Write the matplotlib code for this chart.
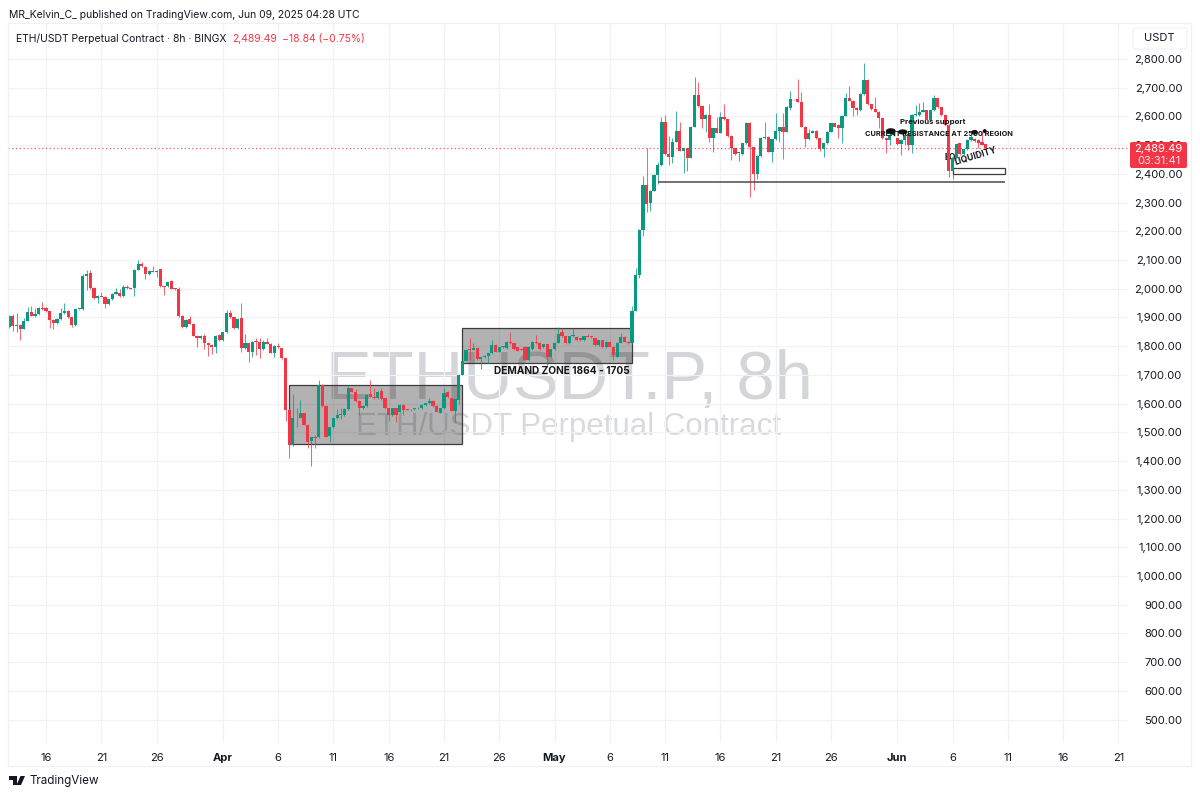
import matplotlib
matplotlib.use("Agg")
import matplotlib.pyplot as plt
import matplotlib.dates as mdates
from matplotlib.patches import Rectangle, Polygon, FancyBboxPatch, Ellipse
from matplotlib.lines import Line2D
import pandas as pd

plt.rcParams['font.family'] = ['Inter', 'DejaVu Sans']

opens = [1866,1905,1871,1874,1859,1888,1918,1905,1912,1933,
1933,1922,1892,1882,1895,1915,1924,1901,1874,1929,
1929,2046,2054,2004,1967,1976,1973,1946,1964,1982,
1984,1975,2005,2002,2002,2066,2086,2077,2051,2062,
2060,2068,2008,2008,2027,2000,2000,1905,1866,1894,
1878,1836,1828,1836,1810,1805,1796,1838,1820,1848,
1915,1901,1863,1897,1793,1810,1781,1816,1813,1789,
1816,1808,1778,1802,1793,1758,1578,1456,1551,1551,
1566,1526,1471,1483,1483,1665,1592,1487,1517,1549,
1560,1560,1580,1653,1642,1609,1584,1592,1633,1624,
1618,1644,1618,1584,1560,1584,1572,1595,1580,1580,
1580,1584,1584,1595,1601,1610,1592,1569,1584,1642,
1618,1575,1613,1700,1749,1787,1787,1792,1754,1761,
1766,1775,1804,1781,1796,1792,1816,1810,1796,1789,
1798,1752,1789,1816,1812,1796,1807,1763,1789,1812,
1850,1835,1810,1835,1833,1827,1821,1835,1835,1827,
1804,1821,1796,1816,1798,1763,1812,1833,1816,1810,
1924,2048,2205,2362,2298,2342,2396,2430,2580,2469,
2458,2512,2551,2481,2489,2456,2564,2676,2636,2590,
2605,2526,2559,2543,2597,2590,2532,2489,2472,2469,
2506,2578,2492,2400,2462,2524,2530,2477,2520,2549,
2562,2547,2628,2660,2660,2651,2564,2521,2543,2551,
2524,2485,2506,2547,2576,2570,2559,2602,2663,2655,
2631,2622,2678,2727,2642,2625,2617,2593,2524,2518,
2535,2524,2504,2518,2539,2501,2605,2605,2617,2622,
2588,2622,2663,2632,2605,2570,2410,2454,2506,2469,
2485,2518,2520,2518,2512,2503]
closes = [1905,1871,1873,1859,1888,1918,1905,1912,1933,1931,
1922,1892,1882,1895,1915,1922,1901,1874,1929,1930,
2046,2052,2004,1967,1976,1973,1946,1964,1982,1987,
1975,2005,2002,2000,2066,2086,2079,2051,2062,2060,
2062,2008,2006,2023,2000,1999,1905,1866,1892,1878,
1836,1828,1836,1810,1805,1796,1836,1820,1848,1915,
1901,1863,1895,1793,1810,1781,1816,1815,1789,1813,
1808,1778,1802,1796,1758,1578,1456,1551,1549,1566,
1526,1468,1483,1479,1665,1592,1485,1517,1549,1560,
1562,1580,1653,1642,1609,1584,1592,1630,1624,1618,
1642,1616,1584,1560,1584,1560,1595,1578,1579,1580,
1584,1585,1595,1601,1610,1592,1572,1584,1638,1622,
1575,1616,1700,1749,1787,1786,1792,1754,1761,1766,
1775,1804,1781,1796,1800,1816,1810,1789,1784,1787,
1752,1798,1816,1810,1789,1807,1763,1789,1812,1842,
1835,1810,1835,1837,1821,1821,1835,1833,1831,1804,
1821,1796,1816,1798,1769,1812,1833,1816,1810,1924,
2048,2205,2362,2295,2342,2396,2430,2580,2469,2458,
2512,2551,2481,2489,2456,2564,2676,2636,2590,2605,
2526,2559,2543,2597,2590,2532,2489,2469,2474,2506,
2578,2492,2400,2462,2526,2527,2477,2520,2549,2562,
2547,2634,2660,2659,2651,2564,2521,2543,2551,2524,
2485,2506,2547,2576,2564,2559,2602,2663,2655,2631,
2622,2678,2727,2642,2625,2617,2593,2524,2518,2535,
2553,2504,2518,2535,2501,2605,2605,2617,2622,2588,
2622,2663,2632,2605,2570,2410,2454,2503,2469,2485,
2518,2530,2514,2509,2501,2489.49]
highs = [1909,1912,1917,1878,1897,1938,1941,1932,1935,1953,
1935,1924,1894,1897,1932,1950,1926,1903,1931,1931,
2050,2066,2066,2006,1978,1990,1975,1966,1984,2002,
2000,2013,2012,2004,2068,2100,2092,2079,2064,2078,
2064,2070,2010,2025,2030,2002,2006,1907,1894,1905,
1880,1838,1838,1843,1812,1807,1838,1842,1850,1925,
1925,1903,1897,1952,1842,1812,1818,1830,1828,1820,
1828,1810,1804,1810,1795,1760,1580,1633,1584,1613,
1568,1528,1485,1491,1684,1667,1594,1519,1551,1580,
1584,1584,1661,1655,1650,1611,1594,1632,1684,1653,
1644,1653,1620,1586,1586,1586,1597,1597,1582,1583,
1586,1587,1597,1603,1620,1612,1594,1586,1653,1644,
1620,1618,1702,1751,1789,1827,1810,1794,1763,1768,
1777,1821,1806,1798,1802,1818,1850,1812,1798,1791,
1800,1800,1818,1839,1814,1809,1809,1791,1814,1868,
1865,1837,1837,1862,1835,1829,1837,1842,1837,1829,
1823,1823,1818,1818,1800,1814,1845,1835,1818,1940,
2071,2207,2391,2489,2344,2398,2443,2599,2605,2532,
2524,2620,2582,2491,2491,2566,2736,2721,2638,2607,
2643,2561,2599,2617,2643,2592,2534,2491,2476,2508,
2580,2580,2494,2464,2528,2582,2532,2522,2611,2564,
2611,2636,2688,2662,2729,2684,2566,2558,2553,2553,
2526,2508,2549,2578,2578,2572,2604,2680,2706,2657,
2633,2680,2785,2729,2644,2669,2619,2595,2526,2555,
2556,2526,2520,2537,2541,2607,2640,2646,2651,2624,
2624,2675,2665,2634,2607,2572,2456,2505,2508,2487,
2520,2535,2525,2520,2550,2505]
lows = [1862,1854,1851,1820,1859,1888,1905,1901,1908,1926,
1920,1863,1859,1878,1890,1912,1899,1866,1870,1927,
1927,1996,2000,1965,1950,1971,1934,1944,1962,1980,
1973,1973,2000,1998,1975,2064,2077,2035,2049,2058,
2042,2006,1979,2006,1998,1996,1903,1864,1864,1876,
1834,1796,1826,1790,1766,1773,1776,1818,1818,1846,
1899,1861,1861,1781,1791,1746,1764,1770,1758,1787,
1806,1776,1764,1794,1756,1538,1409,1454,1520,1549,
1524,1444,1383,1444,1481,1590,1483,1468,1515,1547,
1545,1558,1578,1640,1607,1560,1582,1590,1622,1616,
1616,1614,1582,1540,1558,1537,1570,1560,1577,1576,
1578,1582,1582,1593,1599,1590,1570,1567,1582,1620,
1573,1537,1600,1698,1747,1752,1785,1752,1719,1759,
1740,1773,1779,1779,1794,1790,1808,1787,1782,1785,
1750,1750,1787,1808,1787,1794,1729,1761,1787,1810,
1833,1808,1808,1833,1819,1819,1819,1831,1829,1802,
1802,1794,1794,1796,1752,1761,1810,1814,1808,1808,
1922,2037,2184,2268,2272,2340,2365,2428,2467,2431,
2437,2510,2479,2404,2411,2454,2562,2634,2559,2547,
2512,2477,2541,2541,2588,2530,2448,2467,2445,2467,
2504,2318,2344,2381,2460,2522,2475,2442,2518,2512,
2451,2545,2622,2657,2649,2562,2492,2519,2541,2522,
2481,2460,2504,2545,2562,2524,2506,2600,2653,2601,
2605,2620,2676,2640,2623,2615,2559,2522,2474,2500,
2533,2502,2466,2500,2483,2471,2603,2603,2615,2586,
2586,2620,2630,2603,2568,2388,2381,2452,2467,2467,
2483,2516,2512,2489,2499,2487]
n = len(opens)
assert n == len(closes) == len(highs) == len(lows) == 266, (len(opens), len(closes), len(highs), len(lows))

dates = pd.date_range(end="2025-06-09 00:00", periods=n, freq="8h")

price_ticks = list(range(500, 2900, 100))
date_ticks = ["2025-03-16","2025-03-21","2025-03-26","2025-04-01","2025-04-06","2025-04-11","2025-04-16",
              "2025-04-21","2025-04-26","2025-05-01","2025-05-06","2025-05-11","2025-05-16","2025-05-21",
              "2025-05-26","2025-06-01","2025-06-06","2025-06-11","2025-06-16","2025-06-21"]
date_labels = ["16","21","26","Apr","6","11","16","21","26","May","6","11","16","21","26","Jun","6","11","16","21"]

last_price = 2489.49
UP, DOWN, INK, GRID = "#089981", "#F23645", "#131722", "#F1F2F5"
W, H = 1200, 797

fig = plt.figure(figsize=(12, 7.97), dpi=100, facecolor="white")
ax = fig.add_axes([8/W, 1-743/H, 1120/W, 720/H])
ax.set_zorder(1)
ax.patch.set_alpha(0)

d0 = mdates.date2num(pd.Timestamp("2025-03-16"))
ax.set_xlim(d0 + (8-46)/11.055, d0 + (1128-46)/11.055)
ax.set_ylim(2800-(743-59)*3.482, 2800+(59-23)*3.482)
x = mdates.date2num(dates)

for s in ax.spines.values():
    s.set_visible(False)
ax.set_xticks(mdates.date2num(pd.to_datetime(date_ticks)))
ax.set_xticklabels(date_labels)
ax.set_yticks(price_ticks)
ax.set_yticklabels([f"{p:,.2f}" for p in price_ticks])
ax.yaxis.tick_right()
ax.tick_params(axis="both", length=0, labelsize=8.0, labelcolor=INK)
ax.tick_params(axis="y", pad=39)
ax.tick_params(axis="x", pad=7)
for t in ax.get_yticklabels():
    t.set_horizontalalignment("right")
for t, lab in zip(ax.get_xticklabels(), date_labels):
    if lab in ("Apr", "May", "Jun"):
        t.set_fontweight("bold")
ax.grid(True, color=GRID, lw=0.9, zorder=0)
ax.set_axisbelow(True)

# Watermark, behind the axes
fig.text(569/W, 1-381/H, "ETHUSDT.P, 8h", ha="center", va="center",
         fontsize=49.4, family="Liberation Sans", color="#D4D5D9", zorder=0.5)
fig.text(569/W, 1-427/H, "ETH/USDT Perpetual Contract", ha="center", va="center",
         fontsize=22.5, family="Liberation Sans", color="#D9DADE", zorder=0.5)

# Zones
def zone(start, end, top, bottom, **kw):
    s, e = mdates.date2num(pd.Timestamp(start)), mdates.date2num(pd.Timestamp(end))
    ax.add_patch(Rectangle((s, bottom), e-s, top-bottom, **kw))

zone("2025-04-07 00:00", "2025-04-22 16:00", 1664, 1459, facecolor=(0, 0, 0, 0.3), edgecolor="#3c3c3c", lw=0.9, zorder=1)
zone("2025-04-22 16:00", "2025-05-08 00:00", 1862, 1743, facecolor=(0, 0, 0, 0.3), edgecolor="#3c3c3c", lw=0.9, zorder=1)

# Candles
colors = [UP if c >= o else DOWN for o, c in zip(opens, closes)]
ax.vlines(x, lows, highs, colors=colors, lw=0.75, alpha=0.75, zorder=2)
ax.bar(x, [max(abs(c-o), 2.5) for o, c in zip(opens, closes)],
       bottom=[min(o, c) for o, c in zip(opens, closes)], width=0.29, color=colors, lw=0, zorder=3)

# Last price line
ax.axhline(last_price, color=DOWN, lw=0.9, ls=(0, (1, 2)), alpha=0.8, zorder=1.5)

# Liquidity level and box
lx0, lx1 = mdates.date2num(pd.Timestamp("2025-05-10 08:00")), mdates.date2num(pd.Timestamp("2025-06-10 18:00"))
ax.plot([lx0, lx1], [2370, 2370], color="#4a4a4a", lw=1.1, zorder=2.5, solid_capstyle="butt")
zone("2025-06-06 02:00", "2025-06-10 18:00", 2419, 2399, facecolor="white", edgecolor="#3c3c3c", lw=0.9, zorder=2.5)

# Annotations
def at(px, py):
    return (px/W, 1-py/H)

def note(px, py, s, size=5.6, rot=0, z=6, **kw):
    fx, fy = at(px, py)
    ax.text(fx, fy, s, transform=fig.transFigure, ha="center", va="center", fontsize=size, fontweight="bold",
            color="#161616", rotation=rot, zorder=z, **kw)

note(562, 371, "DEMAND ZONE 1864 - 1705", size=7.3)
note(933, 122, "Previous support", size=5.6)
note(939, 134, "CURRENT RESISTANCE AT 2500 REGION", size=5.3)
note(950, 157, "EQ", size=6.0, z=2)
note(975, 156, "LIQUIDITY", size=6.2, rot=17)

blob_dates = pd.to_datetime(["2025-05-31 10:00", "2025-06-01 12:00", "2025-06-08 00:00", "2025-06-08 22:00"])
blob_prices = [2549, 2546, 2545, 2549]
blob_w = [0.9, 0.85, 0.6, 0.35]
blob_h = [20, 18, 16, 14]
for bd, bp, bw, bh in zip(mdates.date2num(blob_dates), blob_prices, blob_w, blob_h):
    ax.add_patch(Ellipse((bd, bp), bw, bh, facecolor="#111111", edgecolor="none", zorder=7))

# Price label
fig.add_artist(FancyBboxPatch((1130/W, 1-168/H), 57/W, 26/H, transform=fig.transFigure,
                              boxstyle="round,pad=0,rounding_size=0.002", facecolor=DOWN, edgecolor="none", zorder=8))
fig.text(1158.5/W, 1-148.5/H, "2,489.49", ha="center", va="center", fontsize=8.0, color="white", zorder=9)
fig.text(1158.5/W, 1-160.5/H, "03:31:41", ha="center", va="center", fontsize=8.0, color="#FFE0E3", zorder=9)

# USDT button
fig.add_artist(FancyBboxPatch((1133/W, 1-49/H), 54/W, 21/H, transform=fig.transFigure,
                              boxstyle="round,pad=0,rounding_size=0.003", facecolor="white", edgecolor="#F0F1F4", lw=0.8, zorder=8))
fig.text(1159/W, 1-38/H, "USDT", ha="center", va="center", fontsize=8.0, color=INK, zorder=9)

# Frame
for (a, b, c, d) in [(8, 23, 1191, 23), (8, 766, 1191, 766), (8, 23, 8, 766), (1191, 23, 1191, 766)]:
    fig.add_artist(Line2D([a/W, c/W], [1-b/H, 1-d/H], color="#F0F1F4", lw=0.9))

# Header
fig.text(9/W, 1-15.5/H, "MR_Kelvin_C_ published on TradingView.com, Jun 09, 2025 04:28 UTC",
         ha="left", va="center", fontsize=7.5, color=INK)
fig.text(16/W, 1-39/H, "ETH/USDT Perpetual Contract · 8h · BINGX", ha="left", va="center", fontsize=7.5, color=INK)
fig.text(232/W, 1-39/H, "2,489.49", ha="left", va="center", fontsize=7.5, color=DOWN)
fig.text(282/W, 1-39/H, "−18.84 (−0.75%)", ha="left", va="center", fontsize=7.5, color=DOWN)

# Footer logo and name
bar = [(9, 776), (17, 776), (17, 785), (13, 785), (13, 779.5), (9, 779.5)]
slash = [(20.5, 776), (25, 776), (21, 785), (16.5, 785)]
fig.add_artist(Polygon([at(*p) for p in bar], closed=True, transform=fig.transFigure, facecolor="#131722", edgecolor="none"))
fig.add_artist(Polygon([at(*p) for p in slash], closed=True, transform=fig.transFigure, facecolor="#131722", edgecolor="none"))
fig.text(29/W, 1-781/H, "TradingView", ha="left", va="center", fontsize=8.4, color=INK)

fig.savefig("out.png", dpi=100, facecolor="white")
